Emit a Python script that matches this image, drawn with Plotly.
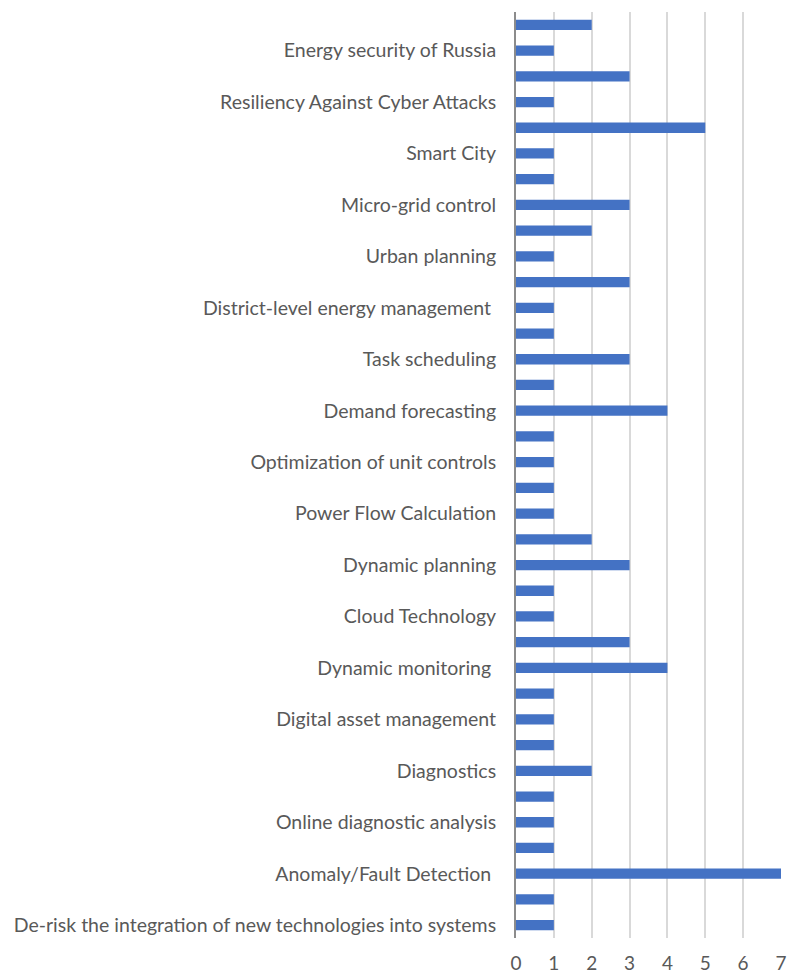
import plotly.graph_objects as go

# Categories listed bottom -> top; unlabeled rows are None (label skipped in original)
labels = [
    "De-risk the integration of new technologies into systems", None,
    "Anomaly/Fault Detection\u00a0", None,
    "Online diagnostic analysis", None,
    "Diagnostics", None,
    "Digital asset management", None,
    "Dynamic monitoring\u00a0", None,
    "Cloud Technology", None,
    "Dynamic planning", None,
    "Power Flow Calculation", None,
    "Optimization of unit controls", None,
    "Demand forecasting", None,
    "Task scheduling", None,
    "District-level energy management\u00a0", None,
    "Urban planning", None,
    "Micro-grid control", None,
    "Smart City", None,
    "Resiliency Against Cyber Attacks", None,
    "Energy security of Russia", None,
]
values = [1, 1, 7, 1, 1, 1, 2, 1, 1, 1, 4, 3, 1, 1, 3, 2, 1, 1,
          1, 1, 4, 1, 3, 1, 1, 3, 1, 2, 3, 1, 1, 5, 1, 3, 1, 2]
x_ticks = [0, 1, 2, 3, 4, 5, 6, 7]

positions = list(range(len(values)))
tickvals = [p for p, l in zip(positions, labels) if l is not None]
ticktext = [l for l in labels if l is not None]

fig = go.Figure(go.Bar(
    x=values, y=positions, orientation="h",
    marker=dict(color="#4472C4", line=dict(width=0)),
    width=0.4,
))

font = dict(family="Lato, 'Open Sans', sans-serif", size=19.5, color="#595959")

fig.update_layout(
    width=788, height=975,
    margin=dict(l=516, r=7, t=12, b=37, autoexpand=False),
    paper_bgcolor="white", plot_bgcolor="white",
    showlegend=False,
    font=font,
    bargap=0.6,
)
fig.update_xaxes(
    range=[0, 7], tickvals=x_ticks, ticktext=[str(t) for t in x_ticks],
    showgrid=True, gridcolor="#d9d9d9", gridwidth=1.5,
    zeroline=False, showline=False, ticks="", ticklabelstandoff=12,
    automargin=False,
    tickfont=dict(size=19, color="#595959"),
)
fig.update_yaxes(
    range=[-0.5, len(values) - 0.5], tickvals=tickvals, ticktext=ticktext,
    showgrid=False, zeroline=False, automargin=False,
    showline=True, linecolor="#8c8c8c", linewidth=2,
    ticks="", ticklabelstandoff=14,
    tickfont=dict(size=19.5, color="#595959"),
)

fig.write_html("out.html")
